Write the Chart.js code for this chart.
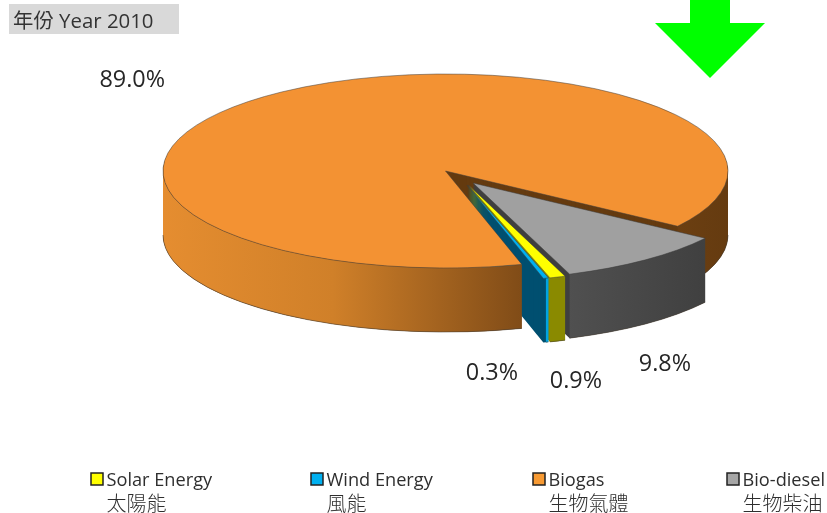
<!DOCTYPE html>
<html>
<head>
<meta charset="utf-8">
<title>Year 2010</title>
<style>
  html, body { margin: 0; padding: 0; background: #fff; }
  canvas { display: block; }
</style>
<script src="https://cdn.jsdelivr.net/npm/chart.js@4"></script>
</head>
<body>
<canvas id="pieCanvas" width="827" height="513"></canvas>
<script>
'use strict';

// ── Data ──────────────────────────────────────────────────────────────────────
var titleText   = '年份 Year 2010';
var namesEn     = ['Solar Energy', 'Wind Energy', 'Biogas', 'Bio-diesel'];
var namesZh     = ['太陽能', '風能', '生物氣體', '生物柴油'];
var sharePct    = [0.9, 0.3, 89.0, 9.8];

// ── Style ─────────────────────────────────────────────────────────────────────
var topColors   = ['#ffff00', '#00b0f0', '#f39233', '#a0a0a0'];
var cutColors   = ['#8a8a00', '#004f70', '#653b10', '#3f3f3f'];  // radial cut faces
var rimColors   = ['#8a8a00', '#00a5e2', null, null];            // outer wall, null = gradient
var legendBox   = ['#ffff00', '#00b0f0', '#f79a33', '#a6a6a6'];
var SOLAR = 0, WIND = 1, BIOGAS = 2, DIESEL = 3;

var TEXT_FONT = '"Open Sans", "Noto Sans CJK TC", sans-serif';
var ZH_FONT   = '"Noto Sans CJK TC", sans-serif';

var pie = { cx: 445.5, cy: 171, radius: 282.5, tilt: 0.3434, depth: 64, startDeg: 160 };
// per-slice explosion in screen px (same order as data)
var explodeX = [23, 21.5, 0, 27.5];
var explodeY = [14, 14, 0, 12];

var labelX = [602, 518, 165, 691];   // right edge of each percent label
var labelY = [388, 380, 87, 371];    // baseline
var legendX = [91, 311, 533, 727];   // left edge of each legend box

// ── 3D pie painter ────────────────────────────────────────────────────────────
function pieTransform(ctx, arc, i, dy) {
  ctx.translate(pie.cx + explodeX[i], pie.cy + explodeY[i] + dy);
  ctx.scale(1, pie.tilt);
  ctx.translate(-arc.x, -arc.y);
}

function rimFill(ctx, i) {
  if (i === BIOGAS) {
    var g = ctx.createLinearGradient(163, 0, 728, 0);
    g.addColorStop(0,    '#e58d30');
    g.addColorStop(0.3,  '#d08029');
    g.addColorStop(0.64, '#7f4b17');
    g.addColorStop(1,    '#653b10');
    return g;
  }
  if (i === DIESEL) {
    var d = ctx.createLinearGradient(568, 0, 705, 0);
    d.addColorStop(0, '#505050');
    d.addColorStop(1, '#404040');
    return d;
  }
  return rimColors[i];
}

// every depth step of the wedge, bottom first, so the cut faces show
function drawExtrusion(ctx, arc, i) {
  ctx.fillStyle = cutColors[i];
  for (var dy = pie.depth; dy > 0; dy--) {
    ctx.save();
    pieTransform(ctx, arc, i, dy);
    ctx.beginPath();
    ctx.moveTo(arc.x, arc.y);
    ctx.arc(arc.x, arc.y, arc.outerRadius, arc.startAngle, arc.endAngle);
    ctx.closePath();
    ctx.restore();
    ctx.fill();
  }
}

function drawTop(ctx, arc, i) {
  ctx.save();
  pieTransform(ctx, arc, i, 0);
  arc.draw(ctx);
  ctx.restore();
}

// outer wall between two angles, only the part facing the viewer
function drawRim(ctx, arc, i, from, to) {
  ctx.beginPath();
  ctx.save();
  pieTransform(ctx, arc, i, 0);
  ctx.arc(arc.x, arc.y, arc.outerRadius, from, to);
  ctx.restore();
  ctx.save();
  pieTransform(ctx, arc, i, pie.depth);
  ctx.arc(arc.x, arc.y, arc.outerRadius, to, from, true);
  ctx.restore();
  ctx.closePath();
  ctx.fillStyle = rimFill(ctx, i);
  ctx.fill();

  // darker lower edge
  ctx.beginPath();
  ctx.save();
  pieTransform(ctx, arc, i, pie.depth);
  ctx.arc(arc.x, arc.y, arc.outerRadius, from, to);
  ctx.restore();
  ctx.strokeStyle = 'rgba(70,60,50,0.55)';
  ctx.lineWidth = 1;
  ctx.stroke();
}

var tiltedPie = {
  id: 'tiltedPie',
  beforeDatasetDraw: function (chart, args) {
    var ctx  = chart.ctx;
    var arcs = chart.getDatasetMeta(args.index).data;
    var b    = arcs[BIOGAS];

    // biogas back wall (right of the notch) and its cut faces
    drawExtrusion(ctx, b, BIOGAS);
    drawRim(ctx, b, BIOGAS, 0, b.endAngle - 2 * Math.PI);

    [DIESEL, SOLAR, WIND].forEach(function (i) {
      var a  = arcs[i];
      // wind rim is only a thin bright strip in the picture
      var to = (i === WIND) ? (a.startAngle + a.endAngle) / 2 : a.endAngle;
      drawExtrusion(ctx, a, i);
      drawRim(ctx, a, i, a.startAngle, to);
      drawTop(ctx, a, i);
    });

    // front wall sits over the small exploded slices
    drawRim(ctx, b, BIOGAS, b.startAngle, Math.PI);
    drawTop(ctx, b, BIOGAS);
    return false;
  }
};

// ── Title, percent labels, legend and the marker arrow ────────────────────────
var annotations = {
  id: 'annotations',
  afterDraw: function (chart) {
    var ctx = chart.ctx;
    ctx.save();

    // title strip
    ctx.fillStyle = '#d9d9d9';
    ctx.fillRect(9, 4, 170, 30);
    ctx.fillStyle = '#333333';
    ctx.font = '20.4px ' + TEXT_FONT;
    ctx.textAlign = 'left';
    ctx.textBaseline = 'alphabetic';
    ctx.fillText(titleText, 13, 28);

    // green arrow
    ctx.fillStyle = '#00ff00';
    ctx.beginPath();
    ctx.moveTo(690, 0);
    ctx.lineTo(730, 0);
    ctx.lineTo(730, 23);
    ctx.lineTo(765, 23);
    ctx.lineTo(710, 78);
    ctx.lineTo(655, 23);
    ctx.lineTo(690, 23);
    ctx.closePath();
    ctx.fill();

    // percent labels
    ctx.fillStyle = '#262626';
    ctx.font = '23.4px ' + TEXT_FONT;
    ctx.textAlign = 'right';
    sharePct.forEach(function (v, i) {
      ctx.fillText(v.toFixed(1) + '%', labelX[i], labelY[i]);
    });

    // legend
    ctx.textAlign = 'left';
    namesEn.forEach(function (name, i) {
      ctx.fillStyle = legendBox[i];
      ctx.fillRect(legendX[i], 473, 12, 12);
      ctx.strokeStyle = '#222222';
      ctx.lineWidth = 1.5;
      ctx.strokeRect(legendX[i], 473, 12, 12);
      ctx.fillStyle = '#2e2e2e';
      ctx.font = '18.2px ' + TEXT_FONT;
      ctx.fillText(name, legendX[i] + 15.5, 486);
      ctx.font = '300 20px ' + ZH_FONT;
      ctx.fillText(namesZh[i], legendX[i] + 15.5, 511);
    });

    ctx.restore();
  }
};

// ── Build chart ───────────────────────────────────────────────────────────────
new Chart(document.getElementById('pieCanvas').getContext('2d'), {
  type: 'pie',
  data: {
    labels: namesEn,
    datasets: [{
      data           : sharePct,
      backgroundColor: topColors,
      borderColor    : 'rgba(60,60,60,0.75)',
      borderWidth    : 1,
      radius         : pie.radius,
      rotation       : pie.startDeg,
      clip           : false
    }]
  },
  options: {
    responsive: false,
    animation : false,
    events    : [],
    plugins: {
      legend : { display: false },
      tooltip: { enabled: false }
    }
  },
  plugins: [tiltedPie, annotations]
});
</script>
</body>
</html>
